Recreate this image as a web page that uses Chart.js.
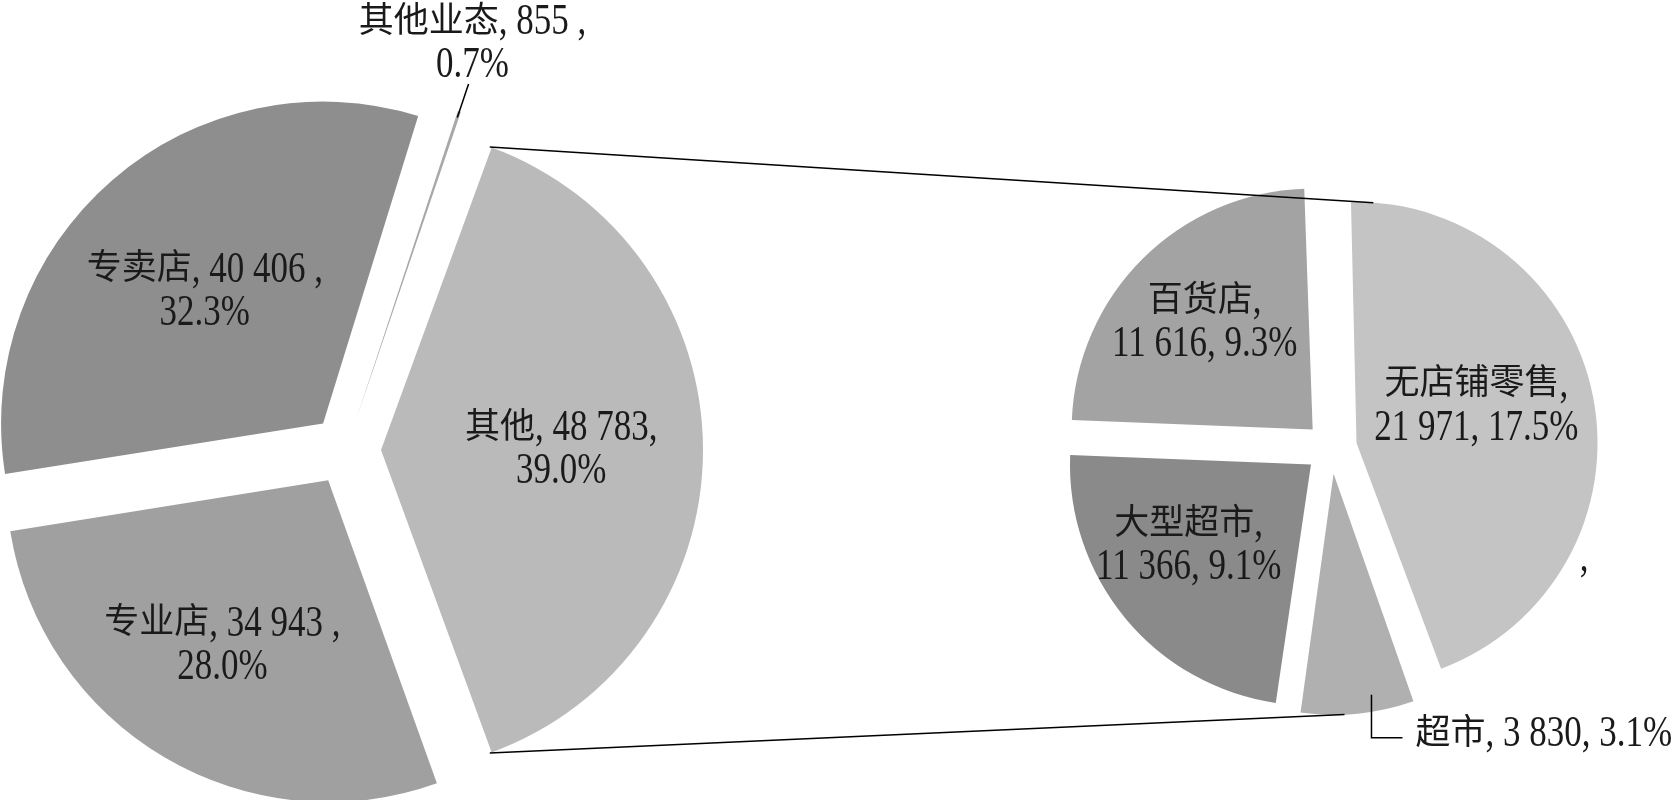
<!DOCTYPE html>
<html>
<head>
<meta charset="utf-8">
<script src="https://cdn.jsdelivr.net/npm/chart.js@4.4.1/dist/chart.umd.min.js"></script>
<style>
  html, body { margin: 0; padding: 0; background: #fff; overflow: hidden; }
  #wrap { position: relative; width: 1678px; height: 800px; }
  canvas { position: absolute; left: 0; top: 0; }
</style>
</head>
<body>
<div id="wrap">
  <canvas id="main" width="1678" height="800"></canvas>
  <canvas id="sub" width="1678" height="800"></canvas>
</div>
<script>
// main pie: 其他 is split out into the second pie
const mainCategories = ['其他', '专业店', '专卖店', '其他业态'];
const mainValues = [48783, 34943, 40406, 855];
const mainPcts = ['39.0%', '28.0%', '32.3%', '0.7%'];

// second pie: breakdown of 其他
const subCategories = ['无店铺零售', '超市', '大型超市', '百货店'];
const subValues = [21971, 3830, 11366, 11616];
const subPcts = ['17.5%', '3.1%', '9.1%', '9.3%'];

const mainColors = ['#bababa', '#a0a0a0', '#8e8e8e', '#a8a8a8'];
const subColors = ['#c4c4c4', '#b0b0b0', '#8a8a8a', '#a3a3a3'];

const FONT = '35px "Liberation Serif", "Noto Sans CJK SC", serif';
const LATIN_STRETCH = 1.25; // digits in the original are tall
const LINE_H = 43;
const TEXT = '#1a1a1a';
const DEG = Math.PI / 180;

// where each inside label sits: fraction of radius, angle tweak (deg)
const mainLabelPos = [[0.56, 0], [0.61, 2], [0.55, -1], null];
const subLabelPos = [[0.52, -6], null, [0.61, 6], [0.63, -0.5]];

function fmt(v) {
  return String(v).replace(/\B(?=(\d{3})+(?!\d))/g, ' ');
}

const mainLines = mainCategories.map((c, i) =>
  i === 0 ? [c + ', ' + fmt(mainValues[i]) + ',', mainPcts[i]]
          : [c + ', ' + fmt(mainValues[i]) + ' ,', mainPcts[i]]);
const subLines = subCategories.map((c, i) =>
  i === 1 ? [c + ', ' + fmt(subValues[i]) + ', ' + subPcts[i]]
          : [c + ',', fmt(subValues[i]) + ', ' + subPcts[i]]);

// real drawn centre / radius of an exploded arc
function geom(arc) {
  const off = (arc.options.offset || 0) / 4;
  const half = (arc.startAngle + arc.endAngle) / 2;
  const fix = 1 - Math.sin(Math.min(Math.PI, arc.circumference));
  return {
    x: arc.x + Math.cos(half) * off,
    y: arc.y + Math.sin(half) * off,
    r: arc.outerRadius + off * fix,
    half
  };
}
function at(g, a, k) {
  return { x: g.x + g.r * k * Math.cos(a), y: g.y + g.r * k * Math.sin(a) };
}

// keep every exploded slice at the same radius
const evenRadius = {
  id: 'evenRadius',
  afterDatasetUpdate(chart, args) {
    args.meta.data.forEach(arc => {
      const off = (arc.options.offset || 0) / 4;
      const fix = 1 - Math.sin(Math.min(Math.PI, arc.circumference));
      arc.outerRadius = arc.outerRadius - off * fix;
    });
  }
};

// draw one line, stretching the latin runs vertically
function drawText(ctx, text, x, y, align) {
  const runs = text.split(/([\u3000-\u9fff\uff00-\uffef]+)/).filter(s => s);
  const widths = runs.map(s => ctx.measureText(s).width);
  const total = widths.reduce((a, b) => a + b, 0);
  let cx = align === 'left' ? x : x - total / 2;
  ctx.textAlign = 'left';
  runs.forEach((s, i) => {
    if (/[\u3000-\u9fff\uff00-\uffef]/.test(s)) {
      ctx.fillText(s, cx, y);
    } else {
      ctx.save();
      ctx.translate(cx, y);
      ctx.scale(1, LATIN_STRETCH);
      ctx.fillText(s, 0, 0);
      ctx.restore();
    }
    cx += widths[i];
  });
}

function drawLines(ctx, lines, x, y, align) {
  const y0 = y - (lines.length - 1) * LINE_H / 2;
  lines.forEach((t, i) => drawText(ctx, t, x, y0 + i * LINE_H, align));
}

const mainLabels = {
  id: 'mainLabels',
  afterDraw(chart) {
    const ctx = chart.ctx;
    const arcs = chart.getDatasetMeta(0).data;
    ctx.save();
    ctx.font = FONT;
    ctx.fillStyle = TEXT;
    ctx.strokeStyle = '#000';
    ctx.lineWidth = 1.5;
    ctx.textBaseline = 'middle';
    arcs.forEach((arc, i) => {
      const g = geom(arc);
      const p = mainLabelPos[i];
      if (p) {
        const q = at(g, g.half + p[1] * DEG, p[0]);
        drawLines(ctx, mainLines[i], q.x, q.y);
      } else {
        const a = at(g, g.half, 0.98);
        const b = at(g, g.half, 1.09);
        ctx.beginPath();
        ctx.moveTo(a.x, a.y);
        ctx.lineTo(b.x, b.y);
        ctx.stroke();
        drawLines(ctx, mainLines[i], b.x + 4, b.y - 18 - LINE_H / 2);
      }
    });
    ctx.restore();
  }
};

const subLabels = {
  id: 'subLabels',
  afterDraw(chart) {
    const ctx = chart.ctx;
    const arcs = chart.getDatasetMeta(0).data;
    ctx.save();
    ctx.font = FONT;
    ctx.fillStyle = TEXT;
    ctx.strokeStyle = '#000';
    ctx.lineWidth = 1.5;
    ctx.textBaseline = 'middle';
    arcs.forEach((arc, i) => {
      const g = geom(arc);
      const p = subLabelPos[i];
      if (p) {
        const q = at(g, g.half + p[1] * DEG, p[0]);
        drawLines(ctx, subLines[i], q.x, q.y);
      } else {
        const a = at(g, g.half - 4 * DEG, 0.93);
        ctx.beginPath();
        ctx.moveTo(a.x, a.y);
        ctx.lineTo(a.x, a.y + 43);
        ctx.lineTo(a.x + 31, a.y + 43);
        ctx.stroke();
        drawLines(ctx, subLines[i], a.x + 44, a.y + 40, 'left');
      }
    });
    // stray comma left in the original
    const g0 = geom(arcs[0]);
    const c = at(g0, g0.half + 38 * DEG, 1.06);
    drawText(ctx, ',', c.x, c.y);

    // connector lines between the two pies
    const mArc = mainChart.getDatasetMeta(0).data[0];
    const m = geom(mArc);
    const top0 = at(m, mArc.startAngle, 1);
    const bot0 = at(m, mArc.endAngle, 1);
    const top1 = at(g0, arcs[0].startAngle + 6 * DEG, 1);
    const g1 = geom(arcs[1]);
    const bot1 = at(g1, arcs[1].endAngle - 11 * DEG, 1);
    ctx.beginPath();
    ctx.moveTo(top0.x, top0.y);
    ctx.lineTo(top1.x, top1.y);
    ctx.moveTo(bot0.x, bot0.y);
    ctx.lineTo(bot1.x, bot1.y);
    ctx.stroke();
    ctx.restore();
  }
};

const mainTotal = mainValues.reduce((a, b) => a + b, 0);

const mainChart = new Chart(document.getElementById('main'), {
  type: 'pie',
  data: {
    labels: mainCategories,
    datasets: [{
      data: mainValues,
      backgroundColor: mainColors,
      borderWidth: 0,
      offset: 140
    }]
  },
  options: {
    responsive: false,
    animation: false,
    radius: 322,
    rotation: 90 - (mainValues[0] / mainTotal) * 180,
    layout: { padding: { left: 0, right: 986, top: 100, bottom: 0 } },
    plugins: { legend: { display: false }, tooltip: { enabled: false } },
    events: []
  },
  plugins: [evenRadius, mainLabels]
});

new Chart(document.getElementById('sub'), {
  type: 'pie',
  data: {
    labels: subCategories,
    datasets: [{
      data: subValues,
      backgroundColor: subColors,
      borderWidth: 0,
      offset: 104
    }]
  },
  options: {
    responsive: false,
    animation: false,
    radius: 241,
    rotation: -2,
    layout: { padding: { left: 984, right: 0, top: 96, bottom: 0 } },
    plugins: { legend: { display: false }, tooltip: { enabled: false } },
    events: []
  },
  plugins: [evenRadius, subLabels]
});
</script>
</body>
</html>
